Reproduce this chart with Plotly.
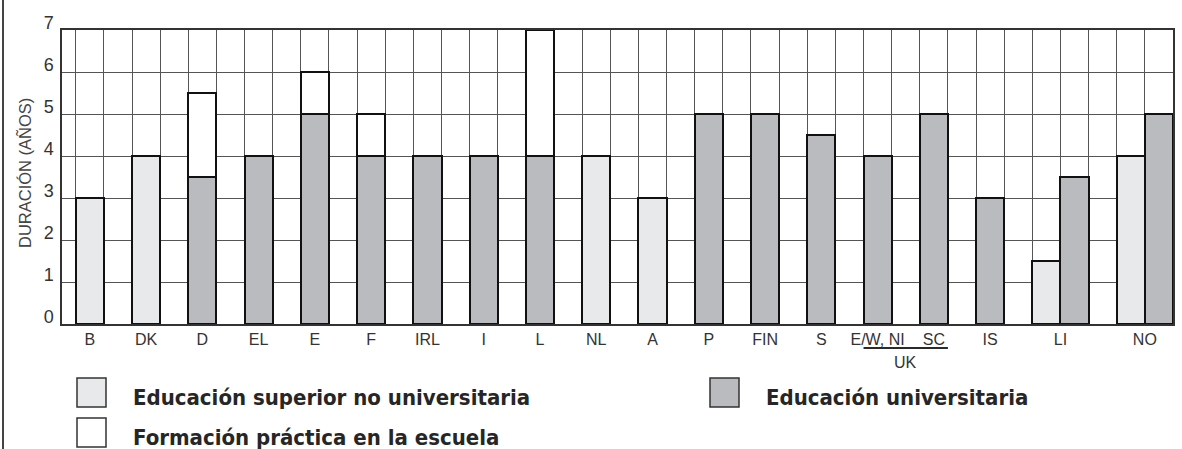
import plotly.graph_objects as go

categories = ["B", "DK", "D", "EL", "E", "F", "IRL", "I", "L", "NL",
              "A", "P", "FIN", "S", "E/W, NI", "SC", "IS", "LI", "NO"]
no_universitaria = [3, 4, None, None, None, None, None, None, None, 4,
                    3, None, None, None, None, None, None, 1.5, 4]
universitaria = [None, None, 3.5, 4, 5, 4, 4, 4, 4, None,
                 None, 5, 5, 4.5, 4, 5, 3, 3.5, 5]
practica = [None, None, 2, None, 1, 1, None, None, 3, None,
            None, None, None, None, None, None, None, None, None]
uk_group = ["E/W, NI", "SC"]
y_ticks = [0, 1, 2, 3, 4, 5, 6, 7]
legend_labels = ["Educación superior no universitaria",
                 "Educación universitaria",
                 "Formación práctica en la escuela"]

LIGHT = "#e7e9eb"
DARK = "#b9bbbe"
INK = "#2a2a2a"
TICK_FONT = "Arial, Liberation Sans, sans-serif"

W, H = 1182, 449
ML, MR, MT, MB = 62, 9, 30, 125

# each bar fills one grid cell, an empty cell follows every country
x_light, x_dark, tick_pos = [], [], []
pos = 0
for i in range(len(categories)):
    start = pos
    if no_universitaria[i] is not None:
        x_light.append(pos + 0.5)
        pos += 1
    else:
        x_light.append(None)
    if universitaria[i] is not None:
        x_dark.append(pos + 0.5)
        pos += 1
    else:
        x_dark.append(None)
    tick_pos.append((start + pos) / 2)
    pos += 1
x_end = pos - 1
x_start = -0.49

bar_line = dict(color="#111", width=2.5)
fig = go.Figure()
fig.add_bar(x=x_light, y=no_universitaria, width=1, name=legend_labels[0],
            marker=dict(color=LIGHT, line=bar_line))
fig.add_bar(x=x_dark, y=universitaria, width=1, name=legend_labels[1],
            marker=dict(color=DARK, line=bar_line))
fig.add_bar(x=x_dark, y=practica, width=1, name=legend_labels[2],
            marker=dict(color="white", line=bar_line))


def px_x(p):
    return (p - ML) / (W - ML - MR)


def px_y(p):
    return (H - MB - p) / (H - MT - MB)


shapes = []
annotations = []

# UK bracket under the two UK labels
i0, i1 = categories.index(uk_group[0]), categories.index(uk_group[1])
shapes.append(dict(type="line", xref="x", yref="paper",
                   x0=x_dark[i0] - 0.5, x1=x_dark[i1] + 0.5,
                   y0=px_y(348), y1=px_y(348), line=dict(color=INK, width=2)))
annotations.append(dict(text="UK", xref="x", yref="paper",
                        x=(x_dark[i0] + x_dark[i1]) / 2, y=px_y(362),
                        showarrow=False, xanchor="center", yanchor="middle",
                        font=dict(family=TICK_FONT, size=16, color="#333")))

# y axis title
annotations.append(dict(text="DURACIÓN (AÑOS)", xref="paper", yref="paper",
                        x=px_x(24), y=px_y(173), textangle=-90, showarrow=False,
                        xanchor="center", yanchor="middle",
                        font=dict(family=TICK_FONT, size=16.5, color="#444")))

# hand-drawn legend
legend_items = [(legend_labels[0], LIGHT, 77, 378),
                (legend_labels[1], DARK, 710, 378),
                (legend_labels[2], "white", 77, 418)]
for label, color, bx, by in legend_items:
    shapes.append(dict(type="rect", xref="paper", yref="paper",
                       x0=px_x(bx), x1=px_x(bx + 29), y0=px_y(by), y1=px_y(by + 29),
                       fillcolor=color, line=dict(color="#333", width=1.5)))
    annotations.append(dict(text=label, xref="paper", yref="paper",
                            x=px_x(bx + 54), y=px_y(by + 19), showarrow=False,
                            xanchor="left", yanchor="middle",
                            font=dict(family="DejaVu Sans Condensed, DejaVu Sans",
                                      size=22, weight="bold", color="#262626")))

# page frame line on the far left
shapes.append(dict(type="line", xref="paper", yref="paper",
                   x0=px_x(3), x1=px_x(3), y0=px_y(0), y1=px_y(H),
                   line=dict(color="#444", width=2)))

fig.update_layout(
    width=W, height=H, autosize=False,
    margin=dict(l=ML, r=MR, t=MT, b=MB),
    barmode="stack", bargap=0,
    showlegend=False,
    plot_bgcolor="white", paper_bgcolor="white",
    shapes=shapes, annotations=annotations,
)
fig.update_xaxes(
    range=[x_start, x_end], automargin=False,
    tickmode="array", tickvals=tick_pos, ticktext=categories,
    showgrid=False, ticks="", ticklabelstandoff=0,
    tickfont=dict(family=TICK_FONT, size=16, color="#333"),
    minor=dict(tickmode="linear", tick0=0, dtick=1, showgrid=True,
               gridcolor="#555", gridwidth=1, ticks=""),
    showline=True, linecolor="#333", linewidth=1.5, mirror=True,
    zeroline=False,
)
fig.update_yaxes(
    range=[0, 7], automargin=False, tickmode="array", tickvals=y_ticks,
    showgrid=True, gridcolor="#555", gridwidth=1,
    ticks="", ticklabelposition="outside", ticklabelstandoff=3,
    ticklabelshift=-7,
    tickfont=dict(family=TICK_FONT, size=18, color="#333"),
    showline=True, linecolor="#333", linewidth=1.5, mirror=True,
    zeroline=False,
)

fig.write_html("out.html", config={"displayModeBar": False},
               post_script="document.body.style.margin = '0';")
